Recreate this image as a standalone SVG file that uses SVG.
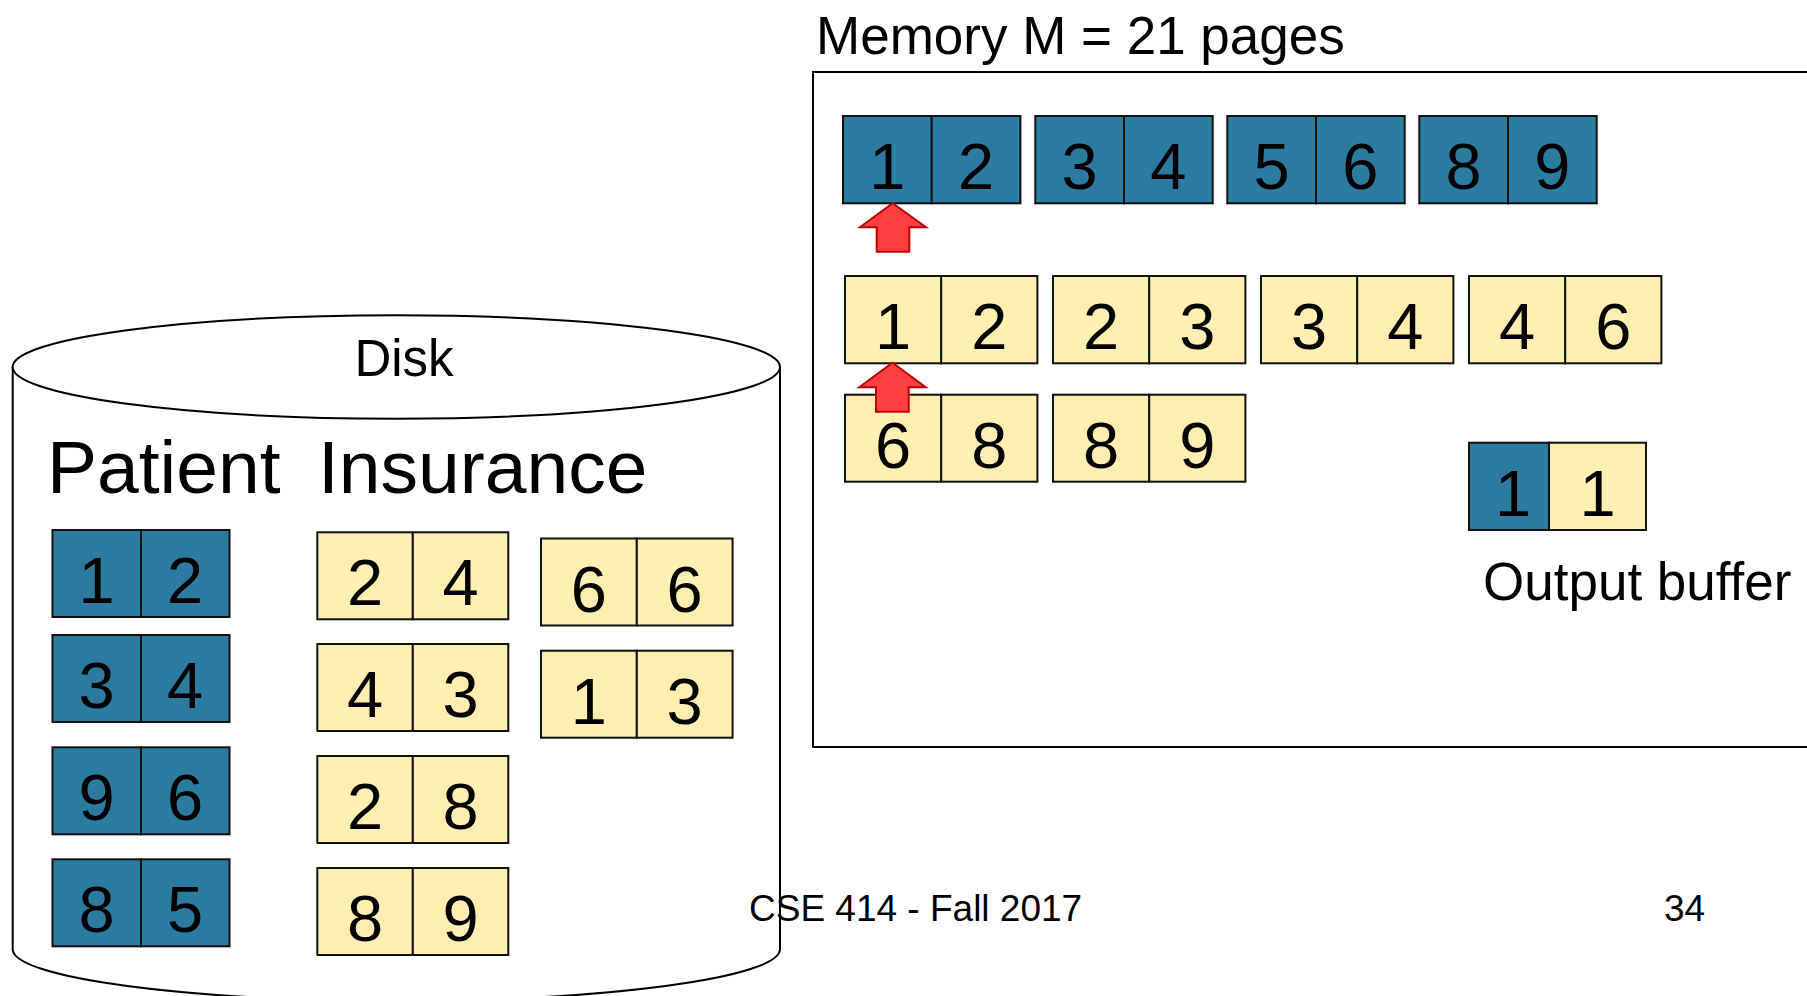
<svg xmlns="http://www.w3.org/2000/svg" width="1807" height="996" viewBox="0 0 1807 996">
<style>
text{font-family:"Liberation Sans",Arial,sans-serif;fill:#000}
.b{fill:#2C7BA0;stroke:#111;stroke-width:2}
.y{fill:#FFEFB0;stroke:#111;stroke-width:2}
.d{font-size:65px;text-anchor:middle}
.lbl{font-size:53px}
.big{font-size:75px}
.foot{font-size:37px}
.arrow{fill:#FF4040;stroke:#C00000;stroke-width:2;stroke-linejoin:miter}
.line{fill:#fff;stroke:#000;stroke-width:2}
</style>
<rect width="1807" height="996" fill="#fff"/>

<!-- Disk cylinder -->
<g id="disk">
<path class="line" d="M12.7 367 L12.7 950 A383.7 51.7 0 0 0 780 950 L780 367"/>
<ellipse class="line" cx="396.3" cy="367" rx="383.7" ry="51.7"/>
<text x="404" y="376" font-size="51" text-anchor="middle">Disk</text>
<text class="big" x="47" y="493">Patient</text>
<text class="big" x="318" y="493">Insurance</text>
</g>

<!-- Patient pages -->
<g id="patient-1-2">
<rect class="b" x="52.5" y="530" width="88.5" height="87"/><rect class="b" x="141" y="530" width="88.5" height="87"/>
<text class="d" x="96.7" y="603">1</text><text class="d" x="185.2" y="603">2</text>
</g>
<g id="patient-3-4">
<rect class="b" x="52.5" y="635" width="88.5" height="87"/><rect class="b" x="141" y="635" width="88.5" height="87"/>
<text class="d" x="96.7" y="708">3</text><text class="d" x="185.2" y="708">4</text>
</g>
<g id="patient-9-6">
<rect class="b" x="52.5" y="747.3" width="88.5" height="87"/><rect class="b" x="141" y="747.3" width="88.5" height="87"/>
<text class="d" x="96.7" y="820.3">9</text><text class="d" x="185.2" y="820.3">6</text>
</g>
<g id="patient-8-5">
<rect class="b" x="52.5" y="859.3" width="88.5" height="87"/><rect class="b" x="141" y="859.3" width="88.5" height="87"/>
<text class="d" x="96.7" y="932.3">8</text><text class="d" x="185.2" y="932.3">5</text>
</g>

<!-- Insurance pages -->
<g id="ins-2-4">
<rect class="y" x="317.3" y="532.3" width="95.5" height="87"/><rect class="y" x="412.8" y="532.3" width="95.5" height="87"/>
<text class="d" x="365" y="605.3">2</text><text class="d" x="460.5" y="605.3">4</text>
</g>
<g id="ins-4-3">
<rect class="y" x="317.3" y="644" width="95.5" height="87"/><rect class="y" x="412.8" y="644" width="95.5" height="87"/>
<text class="d" x="365" y="717">4</text><text class="d" x="460.5" y="717">3</text>
</g>
<g id="ins-2-8">
<rect class="y" x="317.3" y="756" width="95.5" height="87"/><rect class="y" x="412.8" y="756" width="95.5" height="87"/>
<text class="d" x="365" y="829">2</text><text class="d" x="460.5" y="829">8</text>
</g>
<g id="ins-8-9">
<rect class="y" x="317.3" y="868" width="95.5" height="87"/><rect class="y" x="412.8" y="868" width="95.5" height="87"/>
<text class="d" x="365" y="941">8</text><text class="d" x="460.5" y="941">9</text>
</g>
<g id="ins-6-6">
<rect class="y" x="541" y="538.5" width="95.8" height="87"/><rect class="y" x="636.8" y="538.5" width="95.8" height="87"/>
<text class="d" x="588.9" y="611.5">6</text><text class="d" x="684.7" y="611.5">6</text>
</g>
<g id="ins-1-3">
<rect class="y" x="541" y="650.7" width="95.8" height="87"/><rect class="y" x="636.8" y="650.7" width="95.8" height="87"/>
<text class="d" x="588.9" y="723.7">1</text><text class="d" x="684.7" y="723.7">3</text>
</g>

<!-- Memory -->
<g id="memory">
<text class="lbl" x="816" y="54">Memory M = 21 pages</text>
<rect class="line" x="813" y="72" width="1020" height="675"/>
</g>

<g id="mem-b-1-2">
<rect class="b" x="843" y="116" width="88.7" height="87.3"/><rect class="b" x="931.7" y="116" width="88.7" height="87.3"/>
<text class="d" x="887.3" y="189">1</text><text class="d" x="976" y="189">2</text>
</g>
<g id="mem-b-3-4">
<rect class="b" x="1035.3" y="116" width="88.7" height="87.3"/><rect class="b" x="1124" y="116" width="88.7" height="87.3"/>
<text class="d" x="1079.6" y="189">3</text><text class="d" x="1168.3" y="189">4</text>
</g>
<g id="mem-b-5-6">
<rect class="b" x="1227.3" y="116" width="88.7" height="87.3"/><rect class="b" x="1316" y="116" width="88.7" height="87.3"/>
<text class="d" x="1271.6" y="189">5</text><text class="d" x="1360.3" y="189">6</text>
</g>
<g id="mem-b-8-9">
<rect class="b" x="1419.3" y="116" width="88.7" height="87.3"/><rect class="b" x="1508" y="116" width="88.7" height="87.3"/>
<text class="d" x="1463.6" y="189">8</text><text class="d" x="1552.3" y="189">9</text>
</g>

<g id="mem-y-1-2">
<rect class="y" x="845" y="276" width="96.2" height="87.3"/><rect class="y" x="941.2" y="276" width="96.2" height="87.3"/>
<text class="d" x="893.1" y="349.3">1</text><text class="d" x="989.3" y="349.3">2</text>
</g>
<g id="mem-y-2-3">
<rect class="y" x="1053" y="276" width="96.2" height="87.3"/><rect class="y" x="1149.2" y="276" width="96.2" height="87.3"/>
<text class="d" x="1101.1" y="349.3">2</text><text class="d" x="1197.3" y="349.3">3</text>
</g>
<g id="mem-y-3-4">
<rect class="y" x="1261" y="276" width="96.2" height="87.3"/><rect class="y" x="1357.2" y="276" width="96.2" height="87.3"/>
<text class="d" x="1309.1" y="349.3">3</text><text class="d" x="1405.3" y="349.3">4</text>
</g>
<g id="mem-y-4-6">
<rect class="y" x="1469" y="276" width="96.2" height="87.3"/><rect class="y" x="1565.2" y="276" width="96.2" height="87.3"/>
<text class="d" x="1517.1" y="349.3">4</text><text class="d" x="1613.3" y="349.3">6</text>
</g>
<g id="mem-y-6-8">
<rect class="y" x="845" y="394.7" width="96.2" height="87"/><rect class="y" x="941.2" y="394.7" width="96.2" height="87"/>
<text class="d" x="893.1" y="467.7">6</text><text class="d" x="989.3" y="467.7">8</text>
</g>
<g id="mem-y-8-9">
<rect class="y" x="1053" y="394.7" width="96.2" height="87"/><rect class="y" x="1149.2" y="394.7" width="96.2" height="87"/>
<text class="d" x="1101.1" y="467.7">8</text><text class="d" x="1197.3" y="467.7">9</text>
</g>

<g id="output-buffer">
<rect class="b" x="1469" y="442.7" width="80" height="87.3"/><rect class="y" x="1549" y="442.7" width="97" height="87.3"/>
<text class="d" x="1513" y="515.7">1</text><text class="d" x="1597.5" y="515.7">1</text>
<text class="lbl" x="1483" y="600">Output buffer</text>
</g>

<!-- Pointer arrows -->
<g id="connectors">
<path class="arrow" d="M892.7 203.3 L926 227.3 L909.3 227.3 L909.3 251.7 L876.7 251.7 L876.7 227.3 L860 227.3 Z"/>
<path class="arrow" d="M892.5 362.7 L925.7 387.3 L908.7 387.3 L908.7 411.7 L876 411.7 L876 387.3 L859.3 387.3 Z"/>
</g>

<g id="footer">
<text class="foot" x="749" y="921">CSE 414 - Fall 2017</text>
<text class="foot" x="1664" y="921">34</text>
</g>
</svg>
